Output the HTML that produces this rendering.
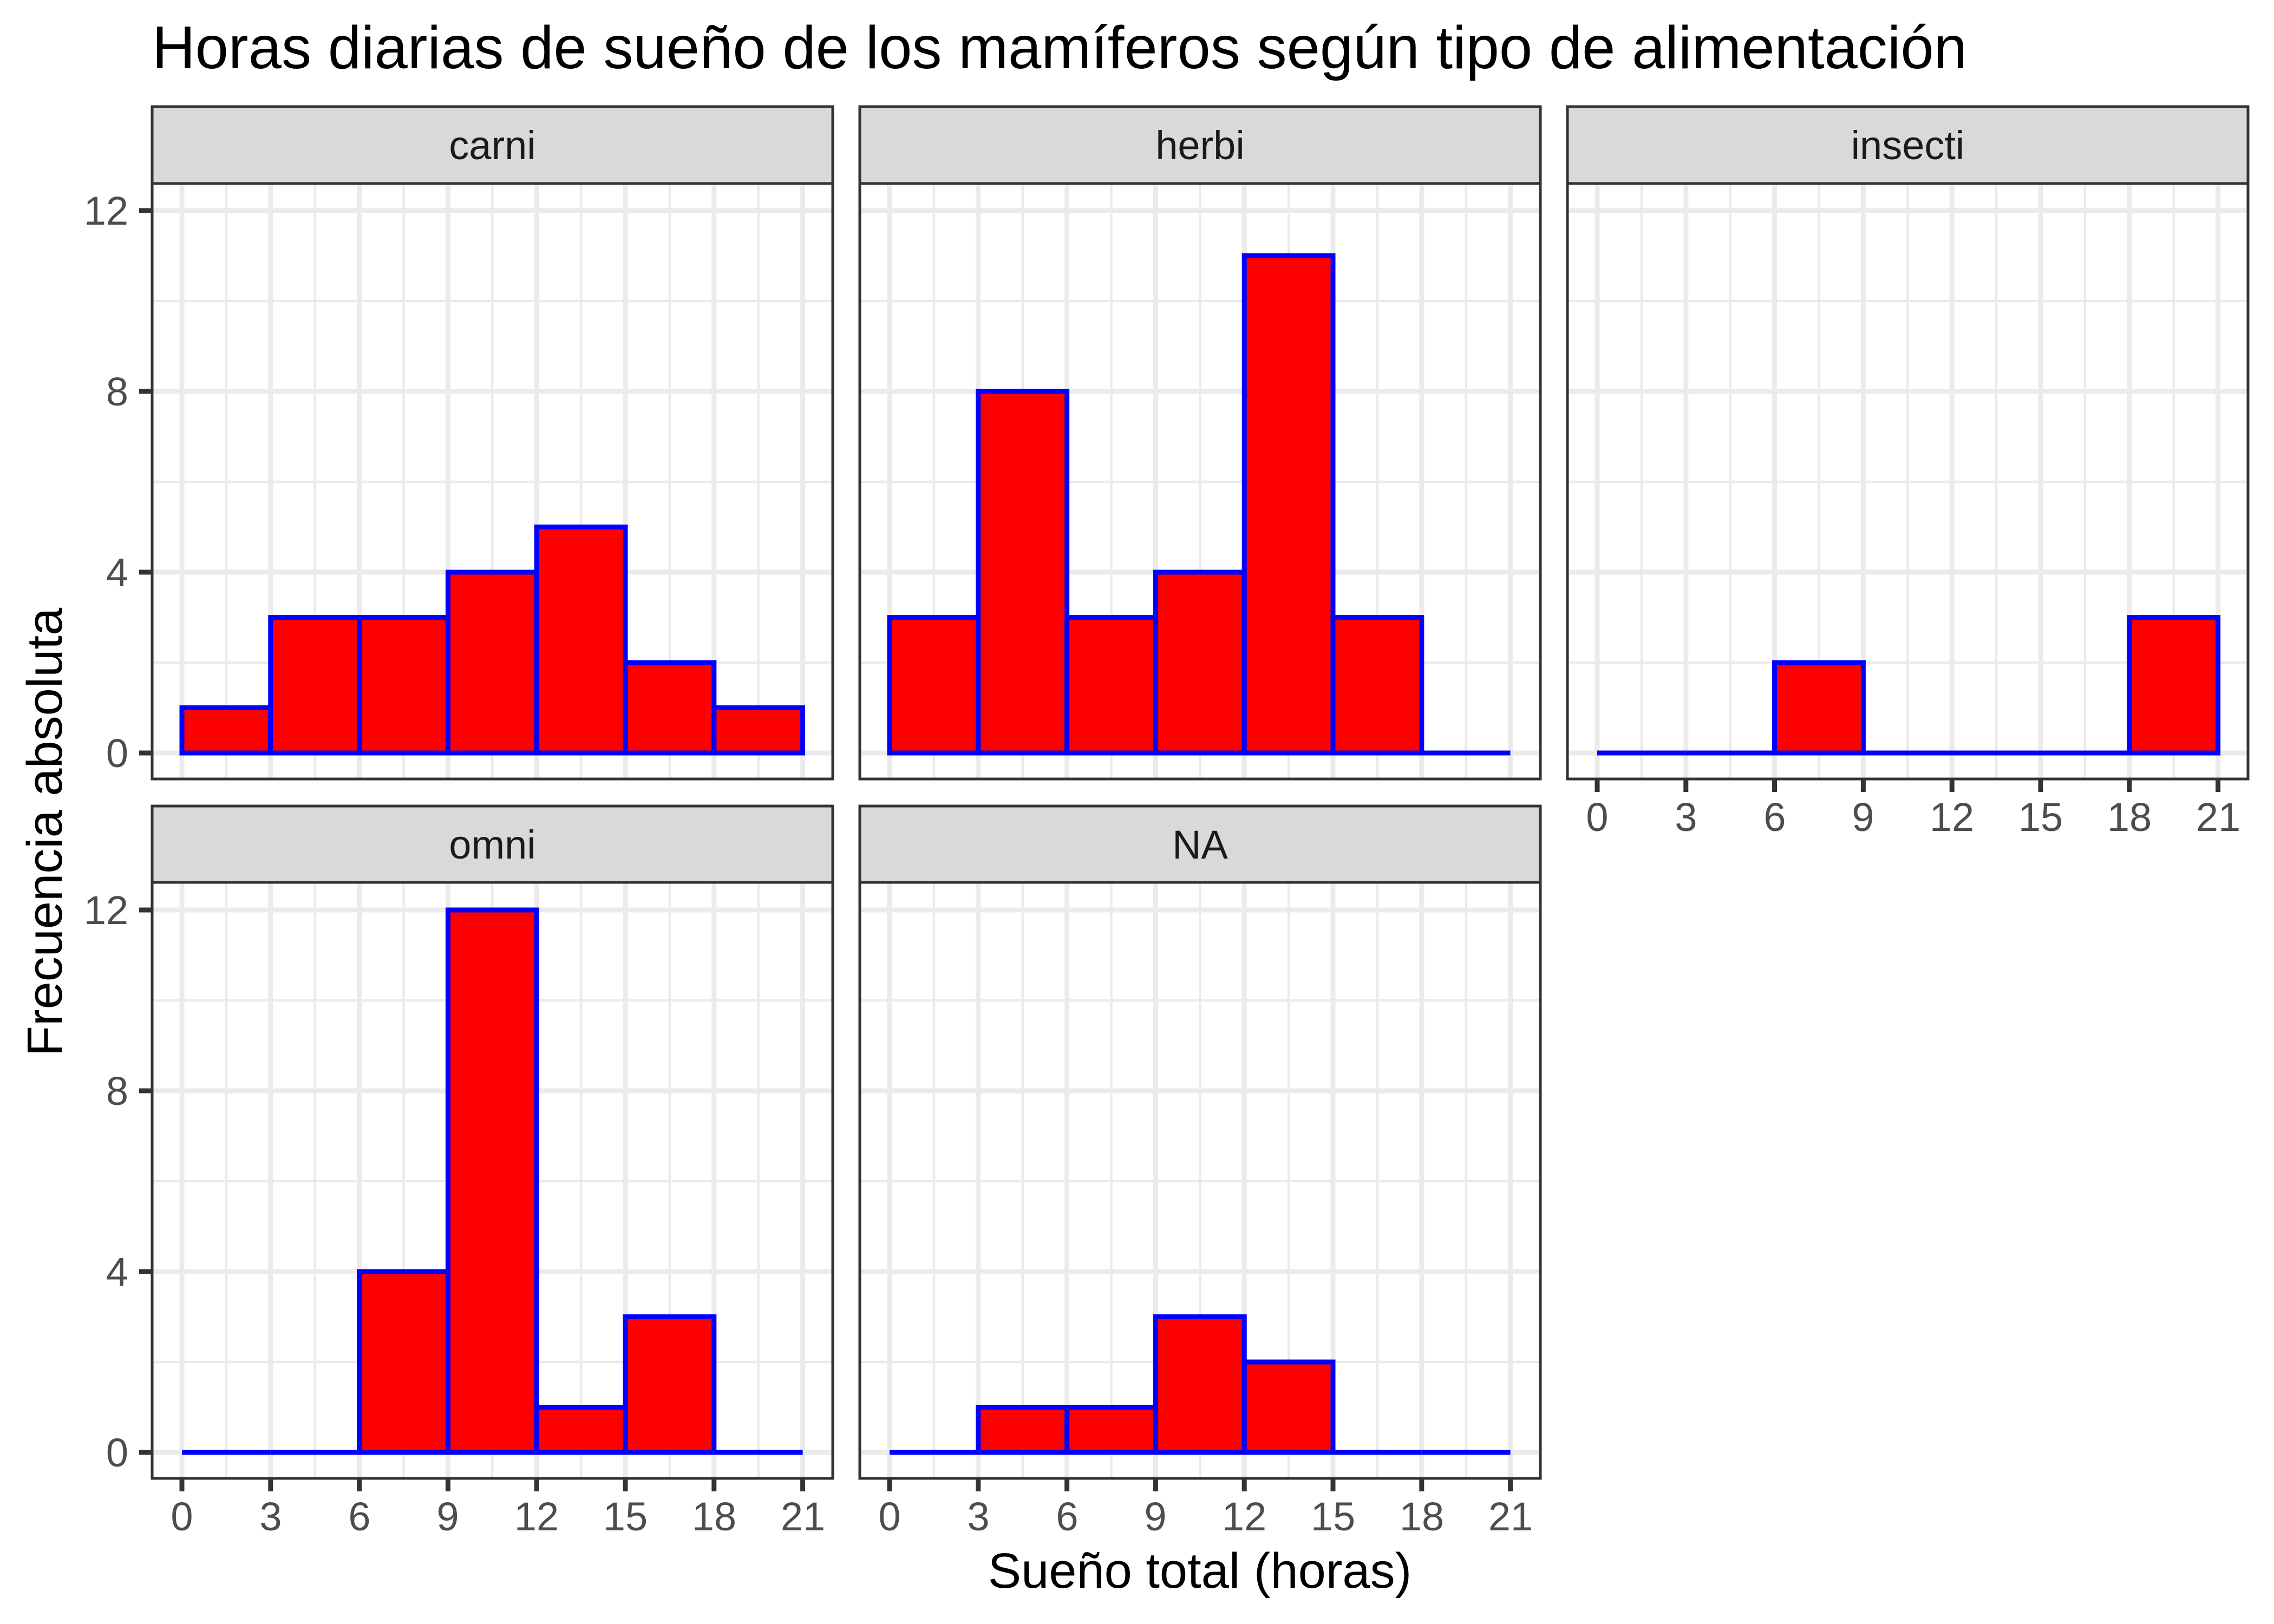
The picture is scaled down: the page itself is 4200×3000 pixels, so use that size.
<!DOCTYPE html>
<html><head><meta charset="utf-8"><style>
html,body{margin:0;padding:0;background:#fff;}
svg{display:block;}
text{font-family:"Liberation Sans",sans-serif;}
</style></head><body>
<svg id="s" xmlns="http://www.w3.org/2000/svg" width="4200" height="3000" viewBox="0 0 4200 3000">
<rect width="4200" height="3000" fill="#fff"/>
<g id="g"></g>
<text x="281" y="126" font-size="111" fill="#000" textLength="3352" lengthAdjust="spacingAndGlyphs">Horas diarias de sueño de los mamíferos según tipo de alimentación</text>
<g font-size="74" fill="#1A1A1A" text-anchor="middle">
<text x="909.5" y="294">carni</text>
<text x="2216.5" y="294">herbi</text>
<text x="3523.5" y="294">insecti</text>
<text x="909.5" y="1586">omni</text>
<text x="2216.5" y="1586">NA</text>
</g>
<g font-size="74" fill="#4D4D4D" text-anchor="end">
<text x="237" y="1417">0</text><text x="237" y="1083">4</text><text x="237" y="749">8</text><text x="237" y="415">12</text>
<text x="237" y="2709">0</text><text x="237" y="2375">4</text><text x="237" y="2041">8</text><text x="237" y="1707">12</text>
</g>
<g id="xl" font-size="74" fill="#4D4D4D" text-anchor="middle">
<text x="336" y="2827">0</text><text x="500" y="2827">3</text><text x="664" y="2827">6</text><text x="827" y="2827">9</text><text x="991" y="2827">12</text><text x="1155" y="2827">15</text><text x="1319" y="2827">18</text><text x="1483" y="2827">21</text>
<text x="1643" y="2827">0</text><text x="1807" y="2827">3</text><text x="1971" y="2827">6</text><text x="2134" y="2827">9</text><text x="2298" y="2827">12</text><text x="2462" y="2827">15</text><text x="2626" y="2827">18</text><text x="2790" y="2827">21</text>
<text x="2950" y="1535">0</text><text x="3114" y="1535">3</text><text x="3278" y="1535">6</text><text x="3441" y="1535">9</text><text x="3605" y="1535">12</text><text x="3769" y="1535">15</text><text x="3933" y="1535">18</text><text x="4097" y="1535">21</text>
</g>
<text x="2216" y="2933" font-size="92" fill="#000" text-anchor="middle">Sueño total (horas)</text>
<text transform="translate(114,1537) rotate(-90)" x="0" y="0" font-size="92" fill="#000" text-anchor="middle">Frecuencia absoluta</text>
</svg>
<script>
(function(){
var g=document.getElementById('g'),NS='http://www.w3.org/2000/svg';
function el(t,a){var e=document.createElementNS(NS,t);for(var k in a)e.setAttribute(k,a[k]);g.appendChild(e);return e;}
var cols=[281,1588,2895],W=1257,U=54.6;
var rows=[{st:197,sb:339,pb:1439,y0:1391},{st:1489,sb:1630,pb:2731,y0:2683}];
var YU=83.5;
var panels=[
 {c:0,r:0,d:[1,3,3,4,5,2,1],yl:1,xl:0},
 {c:1,r:0,d:[3,8,3,4,11,3,0],yl:0,xl:0},
 {c:2,r:0,d:[0,0,2,0,0,0,3],yl:0,xl:1},
 {c:0,r:1,d:[0,0,4,12,1,3,0],yl:1,xl:1},
 {c:1,r:1,d:[0,1,1,3,2,0,0],yl:0,xl:1}];
panels.forEach(function(p){
 var L=cols[p.c],R=L+W,rw=rows[p.r],T=rw.sb,B=rw.pb,x0=L+55,y0=rw.y0;
 el('rect',{x:L,y:T,width:W,height:B-T,fill:'#fff'});
 for(var v=2;v<=10;v+=4){var y=y0-v*YU;el('line',{x1:L,x2:R,y1:y,y2:y,stroke:'#EBEBEB','stroke-width':4.5});}
 for(var v=1.5;v<21;v+=3){var x=x0+v*U;el('line',{x1:x,x2:x,y1:T,y2:B,stroke:'#EBEBEB','stroke-width':4.5});}
 for(var v=0;v<=12;v+=4){var y=y0-v*YU;el('line',{x1:L,x2:R,y1:y,y2:y,stroke:'#EBEBEB','stroke-width':9});}
 for(var v=0;v<=21;v+=3){var x=x0+v*U;el('line',{x1:x,x2:x,y1:T,y2:B,stroke:'#EBEBEB','stroke-width':9});}
 p.d.forEach(function(n,i){
  var xa=x0+i*3*U,xb=x0+(i+1)*3*U;
  if(n>0) el('rect',{x:xa,y:y0-n*YU,width:xb-xa,height:n*YU,fill:'#FF0000',stroke:'#0000FF','stroke-width':9});
  else el('line',{x1:xa,x2:xb,y1:y0,y2:y0,stroke:'#0000FF','stroke-width':9});
 });
 el('rect',{x:L,y:T,width:W,height:B-T,fill:'none',stroke:'#333','stroke-width':5});
 el('rect',{x:L,y:rw.st,width:W,height:rw.sb-rw.st,fill:'#D9D9D9',stroke:'#333','stroke-width':5});
 if(p.yl){for(var v=0;v<=12;v+=4){var y=y0-v*YU;el('line',{x1:L-24,x2:L,y1:y,y2:y,stroke:'#333','stroke-width':9});}}
 if(p.xl){for(var v=0;v<=21;v+=3){var x=x0+v*U;el('line',{x1:x,x2:x,y1:B,y2:B+24,stroke:'#333','stroke-width':9});}}
});
})();
</script>
</body></html>
